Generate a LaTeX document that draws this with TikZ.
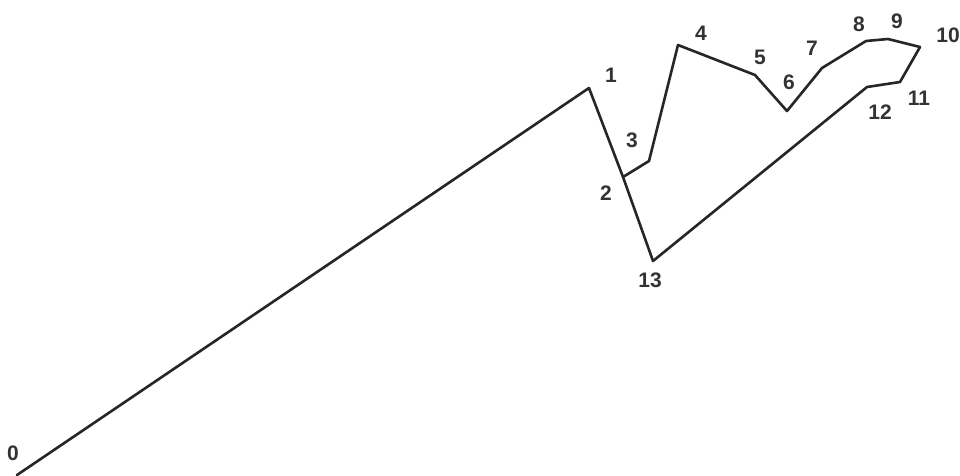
\documentclass[tikz,border=0pt]{standalone}
\usepackage{fontspec}
\setmainfont{Liberation Sans}
\begin{document}
\begin{tikzpicture}[x=1pt,y=-1pt,
  edge/.style={line width=2.6pt,line join=round,line cap=round,black!85},
  lbl/.style={font=\fontsize{21}{21}\selectfont\bfseries,text=black!80,inner sep=0pt}]
\useasboundingbox[fill=white] (0,0) rectangle (960,475);
\coordinate (p0) at (17,475);
\coordinate (p1) at (589,88);
\coordinate (p2) at (623,177);
\coordinate (p3) at (649,161);
\coordinate (p4) at (678,45);
\coordinate (p5) at (755,75);
\coordinate (p6) at (787,111);
\coordinate (p7) at (822,68);
\coordinate (p8) at (866,41);
\coordinate (p9) at (888,39);
\coordinate (p10) at (920,47);
\coordinate (p11) at (900,82);
\coordinate (p12) at (867,87);
\coordinate (p13) at (653,261);
\draw[edge] (p0) -- (p1) -- (p2) -- (p13) -- (p12) -- (p11) -- (p10) -- (p9) -- (p8) -- (p7) -- (p6) -- (p5) -- (p4) -- (p3) -- (p2);
\node[lbl] (l0) at (13,453) {0};
\node[lbl] (l1) at (611,75) {1};
\node[lbl] (l2) at (606,193) {2};
\node[lbl] (l3) at (632,140) {3};
\node[lbl] (l4) at (701,33) {4};
\node[lbl] (l5) at (760,57) {5};
\node[lbl] (l6) at (789,82) {6};
\node[lbl] (l7) at (812,48) {7};
\node[lbl] (l8) at (859,24) {8};
\node[lbl] (l9) at (897,21) {9};
\node[lbl] (l10) at (948,35) {10};
\node[lbl] (l11) at (919,98) {11};
\node[lbl] (l12) at (880,112) {12};
\node[lbl] (l13) at (650,280) {13};
\end{tikzpicture}
\end{document}
